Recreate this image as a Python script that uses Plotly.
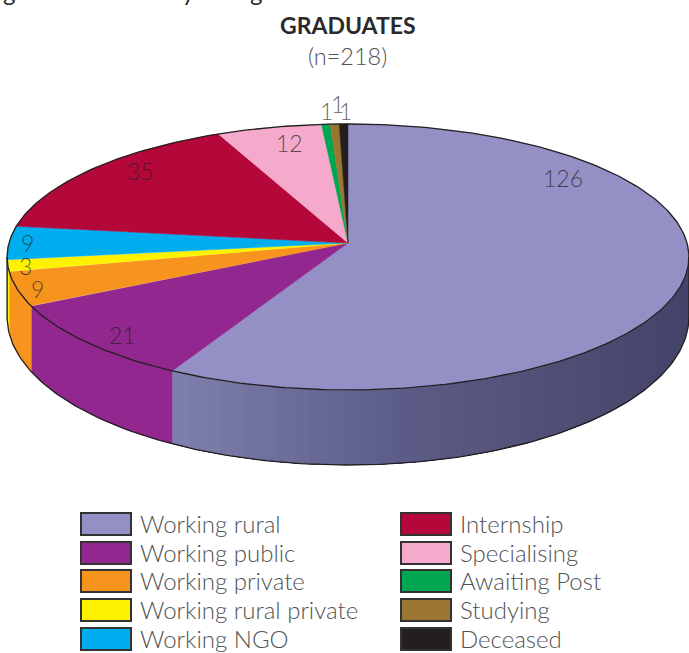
import numpy as np
import plotly.graph_objects as go

# ---- data ----
categories = ["Working rural", "Working public", "Working private", "Working rural private", "Working NGO",
              "Internship", "Specialising", "Awaiting Post", "Studying", "Deceased"]
values = [126, 21, 9, 3, 9, 35, 12, 1, 1, 1]
colors = ["#9490c6", "#92278f", "#f7941d", "#fff200", "#00aeef",
          "#b5083a", "#f5a9cb", "#00a651", "#9a7632", "#231f20"]
title_text = "GRADUATES"
subtitle_text = "(n=218)"
cropped_line = ["g", "y", "g"]

# ---- pie projection (pixels of the 689x653 page) ----
CX, CY = 348.0, 243.0
A, B, K = 339.0, 131.5, 0.105
BOT_CY, BOT_RY = 317.0, 148.0
RX = A / np.sqrt(1 - K ** 2)
TH_R = np.degrees(np.arccos(-K))
TH_L = 360 - TH_R
INK = "#231f20"
TXT = "#525355"
FONT = "Lato"


def rim(t1, t2, n=80):
    th = np.radians(np.linspace(t1, t2, max(2, n)))
    u, v = np.sin(th), -np.cos(th)
    d = 1 - K * v
    return CX + A * u / d, CY + B * v / d


def bottom_y(x):
    return BOT_CY + BOT_RY * np.sqrt(np.clip(1 - ((x - CX) / RX) ** 2, 0, 1))


def poly(fig, x, y, color, width=0.5):
    fig.add_trace(go.Scatter(x=list(x), y=list(y), mode="lines", fill="toself", fillcolor=color,
                             line=dict(width=width, color=color), hoverinfo="skip", showlegend=False))


def line(fig, x, y, width=1.3):
    fig.add_trace(go.Scatter(x=list(x), y=list(y), mode="lines", line=dict(width=width, color=INK),
                             hoverinfo="skip", showlegend=False))


def side(fig, t1, t2, color):
    x, y = rim(t1, t2)
    poly(fig, np.r_[x, x[::-1]], np.r_[y, bottom_y(x)[::-1]], color)


STOPS_X = [172, 300, 400, 500, 600, 689]
STOPS_C = np.array([[128, 128, 174], [108, 108, 152], [92, 92, 136], [84, 84, 124], [76, 76, 114], [68, 68, 106]])

fig = go.Figure()
total = sum(values)
edges = np.r_[0, np.cumsum(values)] / total * 360

# side wall
for i, c in enumerate(colors):
    t1, t2 = max(edges[i], TH_R), min(edges[i + 1], TH_L)
    if t2 <= t1:
        continue
    if i == 0:
        # shaded wall: vertical bands of equal width, painted right to left
        fine_t = np.linspace(t1, t2, 2000)
        fine_x = rim(t1, t2, 2000)[0]
        xs = np.linspace(fine_x[0], fine_x[-1], 65)
        ts = np.interp(-xs, -fine_x, fine_t)
        for j in range(len(ts) - 1):
            a = ts[j]
            xm = (xs[j] + xs[j + 1]) / 2
            rgb = [np.interp(xm, STOPS_X, STOPS_C[:, k]) for k in range(3)]
            col = "rgb(%d,%d,%d)" % tuple(rgb)
            # keep each band running to the left end so no seam can show through
            x, y = rim(a, t2, 40)
            poly(fig, np.r_[x, x[::-1]], np.r_[y, bottom_y(x)[::-1]], col, width=0)
    else:
        side(fig, t1, t2, c)

# top face
for i, c in enumerate(colors):
    x, y = rim(edges[i], edges[i + 1], int(values[i] * 6) + 4)
    poly(fig, np.r_[CX, x, CX], np.r_[CY, y, CY], c)

# outlines
x, y = rim(0, 360, 400)
line(fig, x, y)
x, y = rim(TH_R, TH_L, 200)
line(fig, x, bottom_y(x))
for t in (TH_R, TH_L):
    x, y = rim(t, t, 2)
    line(fig, [x[0], x[0]], [y[0], bottom_y(x)[0]])

# texts
ann = []


def text(s, x, y, size=24, color=TXT, weight=300, anchor="center"):
    ann.append(dict(x=x, y=y, xref="x", yref="y", text=s, showarrow=False, xanchor=anchor, yanchor="middle",
                    font=dict(family=FONT, size=size, color=color, weight=weight)))


text(title_text, 348, 25, size=23, color="#2b2a2b", weight=700)
text(subtitle_text, 347.5, 56, size=23.5)
# descenders of the line that the reference crops at its top edge
for s, lx in zip(cropped_line, [9, 189, 256]):
    ann.append(dict(x=lx / 689, y=1 + 9 / 653, xref="paper", yref="paper", text=s, showarrow=False,
                    xanchor="center", yanchor="middle",
                    font=dict(family=FONT, size=24, color="#2b2a2b", weight=400)))

label_x = [563, 122, 37, 25, 27, 140, 289, 345, 337, 326]
label_y = [178, 335, 289, 266, 243, 171, 143, 111, 104, 111]
for v, lx, ly in zip(values, label_x, label_y):
    text(str(v), lx, ly, size=23, color="rgba(35,31,32,0.72)")

# legend
shapes = []
leg_x = [81] * 5 + [401] * 5
leg_y = [524, 553, 581, 610, 639] * 2
for name, c, lx, ly in zip(categories, colors, leg_x, leg_y):
    shapes.append(dict(type="rect", xref="x", yref="y", x0=lx, x1=lx + 50, y0=ly - 11, y1=ly + 11,
                       fillcolor=c, line=dict(color="#333333", width=2)))
    text(name, lx + 57, ly - 0.5, anchor="left")

fig.update_layout(
    width=689, height=653, margin=dict(l=0, r=0, t=0, b=0), autosize=False,
    paper_bgcolor="white", plot_bgcolor="white", showlegend=False,
    xaxis=dict(range=[0, 689], visible=False, fixedrange=True),
    yaxis=dict(range=[653, 0], visible=False, fixedrange=True),
    annotations=ann, shapes=shapes,
)
fig.write_html("out.html", config={"displayModeBar": False},
               post_script="document.body.style.margin='0';")
